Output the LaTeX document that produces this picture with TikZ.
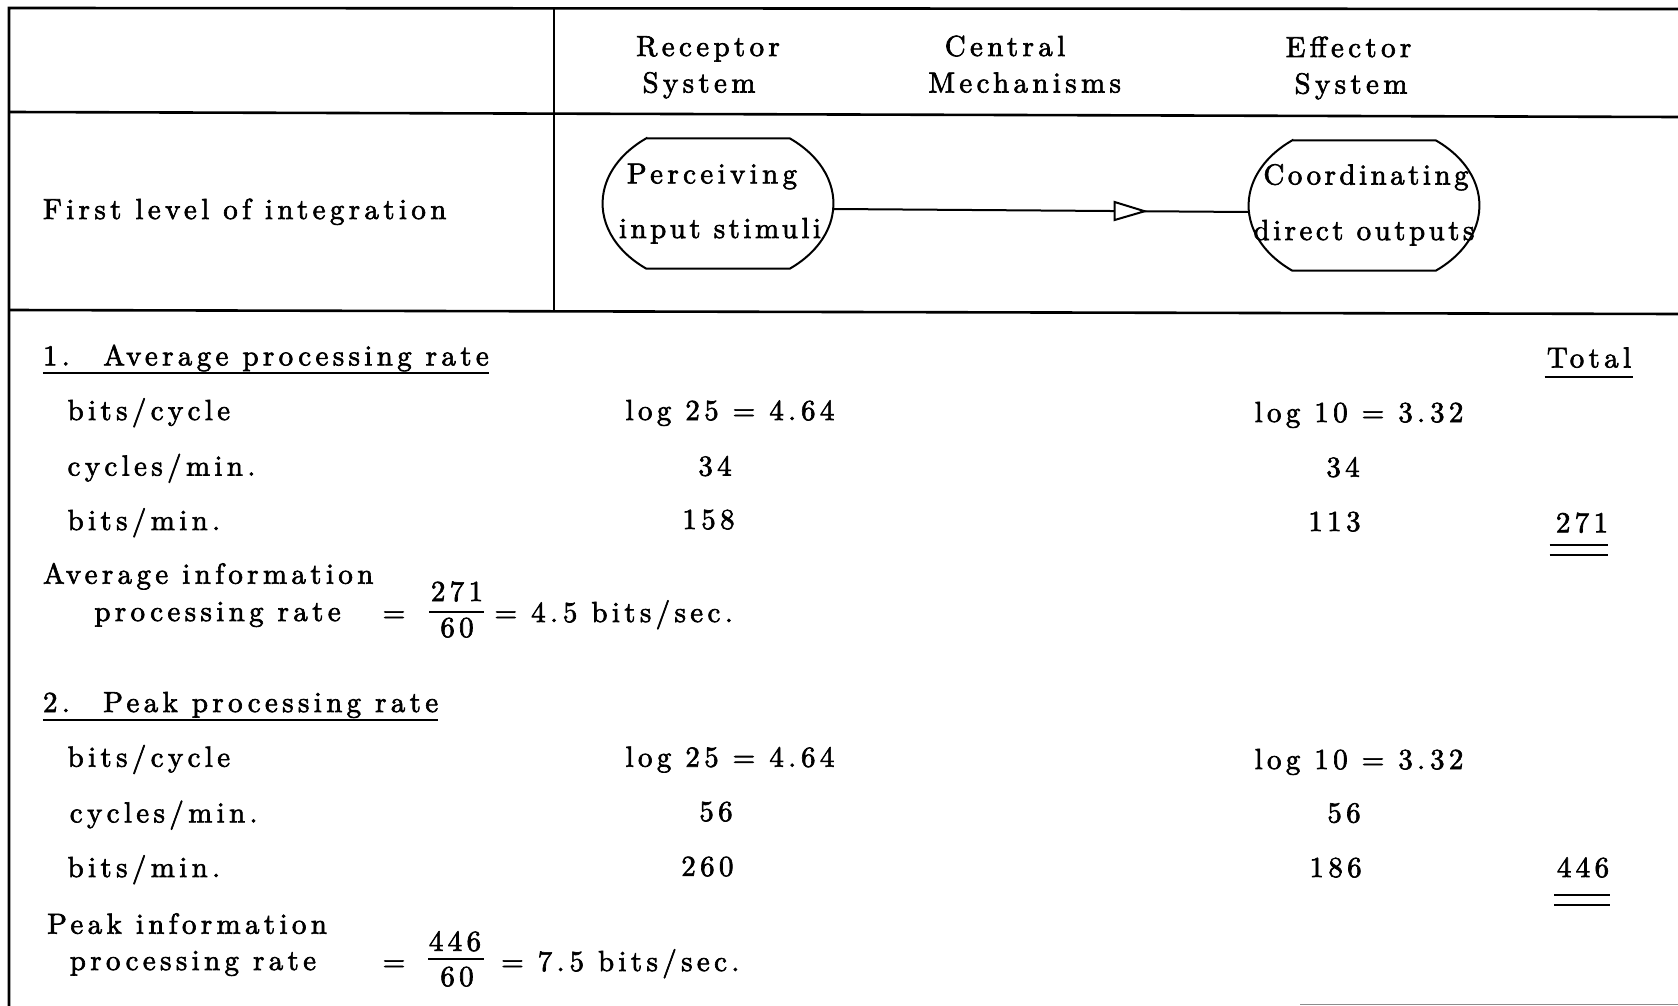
\documentclass[tikz,border=0pt]{standalone}
\usepackage{fontspec}
\newfontfamily\typedfont{lmroman10-regular.otf}[LetterSpace=15,FakeBold=2.2]
\newfontfamily\typedtight{lmroman10-regular.otf}[LetterSpace=12,FakeBold=2.2]
\usetikzlibrary{calc,decorations.markings}
\begin{document}
\begin{tikzpicture}[x=1pt,y=-1pt,line join=miter,
  txt/.style={font=\typedfont\fontsize{29}{34}\selectfont,inner sep=0pt,text height=22pt,text depth=4pt},
  lft/.style={txt,anchor=west},
  ctr/.style={txt,anchor=center},
  tight/.style={ctr,font=\typedtight\fontsize{29}{34}\selectfont},
  frame/.style={line width=2.6pt},
  rule/.style={line width=2pt},
  outline/.style={line width=2pt},
  hole/.style={minimum width=231pt,minimum height=130pt,inner sep=0pt},
  conn/.style={line width=2pt,postaction={decorate},
    decoration={markings,mark=at position 0.75 with
      {\draw[line width=2pt,fill=white] (0pt,0pt) -- (-30pt,9pt) -- (-30pt,-9pt) -- cycle;}}}
]
\useasboundingbox (0,0) rectangle (1678,1006);

% table frame
\coordinate (fbl) at (9,1006);
\coordinate (ftl) at (9,8);
\coordinate (ftr) at (1678,9);
\draw[frame] (fbl) -- (ftl) -- (ftr);
\draw[frame] (9,112) -- (1678,117);
\draw[frame] (9,310) -- (1678,314);
\draw[frame] (554,8) -- (554,311);
\draw[line width=1pt,black!45] (1300,1004) -- (1678,1004);

% column headings
\node[ctr] (hR1) at (708,47) {Receptor};
\node[ctr] (hR2) at (699,83.5) {System};
\node[ctr] (hC1) at (1005,47) {Central};
\node[ctr] (hC2) at (1024.7,83.5) {Mechanisms};
\node[ctr] (hE1) at (1348.5,48) {Effector};
\node[ctr] (hE2) at (1351,84.5) {System};

% first level row
\node[lft] (lvl) at (42.8,210) {First level of integration};

\node[hole] (perc) at (718,203.5) {};
\node[hole] (coord) at (1364,205.5) {};
\foreach \n in {perc,coord}{
  \draw[outline] ($(\n.center)+(-72,-65)$) -- ($(\n.center)+(72,-65)$)
    arc[start angle=-51.4,end angle=51.4,x radius=115.5,y radius=83.2]
    -- ($(\n.center)+(-72,65)$)
    arc[start angle=128.6,end angle=231.4,x radius=115.5,y radius=83.2] -- cycle;
}
\node[ctr] (percA) at (712,174.4) {Perceiving};
\node[tight] (percB) at (720,229) {input stimuli};
\node[tight] (coordA) at (1366,175.5) {Coordinating};
\node[tight] (coordB) at (1364,231) {direct outputs};
\draw[conn] ([yshift=-5.5pt]perc.east) -- ([yshift=-6.5pt]coord.west);

% section 1
\node[lft] (s1) at (42.8,356.4) {1.\hspace{1.15em}Average processing rate};
\draw[rule] ($(s1.south west)+(0,3)$) -- ($(s1.south east)+(0,3)$);
\node[ctr] (tot) at (1589,358.5) {Total};
\draw[rule] ($(tot.south west)+(-2,5)$) -- ($(tot.south east)+(2,5)$);

\node[lft] (a1) at (67.4,411) {bits/cycle};
\node[ctr] (a1r) at (730,411) {log 25 = 4.\,64};
\node[ctr] (a1e) at (1359,413) {log 10 = 3.\,32};
\node[lft] (a2) at (67.4,466.6) {cycles/min.};
\node[ctr] (a2r) at (715,466.6) {34};
\node[ctr] (a2e) at (1343,467.7) {34};
\node[lft] (a3) at (67.4,521) {bits/min.};
\node[ctr] (a3r) at (708.5,520) {158};
\node[ctr] (a3e) at (1334.5,522) {113};
\node[ctr] (a3t) at (1582,523.3) {271};
\draw[rule] (1549.6,544.7) -- (1607.5,544.7);
\draw[rule] (1549.6,555.4) -- (1607.5,555.4);

\node[lft] (a4) at (42.8,574.7) {Average information};
\node[lft] (a5) at (94.2,612) {processing rate};
\node[ctr] (a5q) at (394,613) {=};
\node[ctr] (f1n) at (457,592) {271};
\node[ctr] (f1d) at (457,628) {60};
\draw[rule] (429,612) -- (484,612);
\node[lft] (a5v) at (494.4,613) {= 4.\,5 bits/sec.};

% section 2
\node[lft] (s2) at (42.8,703) {2.\hspace{1.15em}Peak processing rate};
\draw[rule] ($(s2.south west)+(0,4)$) -- ($(s2.south east)+(0,4)$);

\node[lft] (b1) at (67.4,757.7) {bits/cycle};
\node[ctr] (b1r) at (730,757.7) {log 25 = 4.\,64};
\node[ctr] (b1e) at (1359,760) {log 10 = 3.\,32};
\node[lft] (b2) at (69.6,813.4) {cycles/min.};
\node[ctr] (b2r) at (716,812) {56};
\node[ctr] (b2e) at (1344,813.4) {56};
\node[lft] (b3) at (67.4,868) {bits/min.};
\node[ctr] (b3r) at (707.4,866.9) {260};
\node[ctr] (b3e) at (1335.6,868) {186};
\node[ctr] (b3t) at (1583,868) {446};
\draw[rule] (1554,894.7) -- (1609.6,894.7);
\draw[rule] (1554,905.4) -- (1609.6,905.4);

\node[lft] (b4) at (47,924.7) {Peak information};
\node[lft] (b5) at (69.6,961) {processing rate};
\node[ctr] (b5q) at (394,962) {=};
\node[ctr] (f2n) at (455,941.8) {446};
\node[ctr] (f2d) at (457,977) {60};
\draw[rule] (428,959) -- (484,959);
\node[lft] (b5v) at (501,962) {= 7.\,5 bits/sec.};
\end{tikzpicture}
\end{document}
